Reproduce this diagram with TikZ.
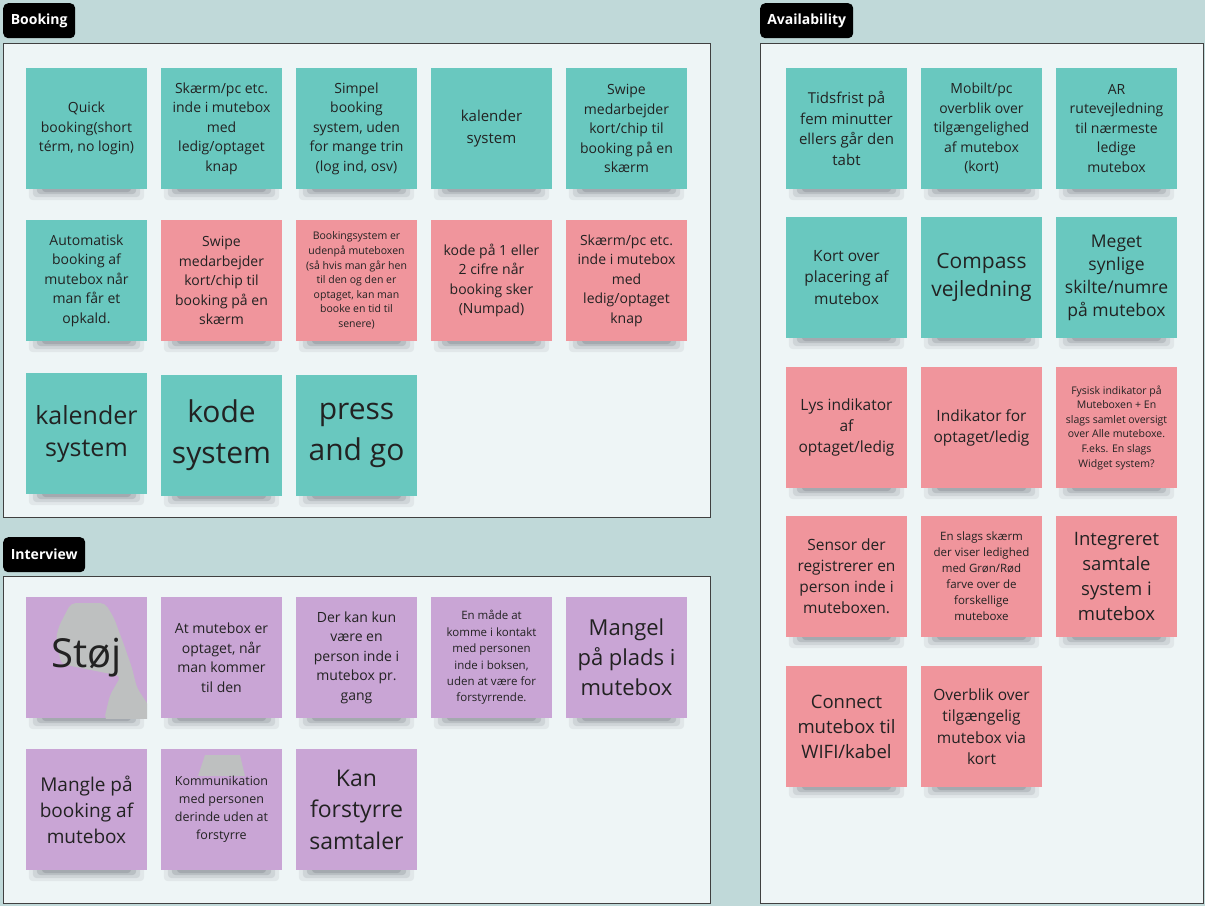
\documentclass[tikz,border=0pt]{standalone}
\usepackage{fontspec}
\setmainfont{Open Sans}
\definecolor{cbg}{HTML}{C0D9D9}
\definecolor{cframe}{HTML}{EEF5F6}
\definecolor{cteal}{HTML}{69C8BF}
\definecolor{cpink}{HTML}{F0959C}
\definecolor{cpurp}{HTML}{C9A5D5}
\definecolor{cgray}{HTML}{BEC0C0}
\definecolor{ctxt}{HTML}{222222}
\definecolor{cshadow}{HTML}{3A3A4A}
\newcommand\fsz[2]{\fontsize{#1}{#2}\selectfont}
\pgfdeclarelayer{framelayer}
\pgfdeclarelayer{shadowlayer}
\pgfsetlayers{framelayer,shadowlayer,main}
\tikzset{
  frame/.style={draw=black!75, line width=0.9pt, fill=cframe},
  tag/.style={fill=black, rounded corners=5pt, text=white, font=\bfseries\fsz{14}{16}, inner sep=0pt, minimum height=35pt, anchor=north west},
  note/.style={minimum width=121pt, minimum height=121pt, inner sep=0pt, align=center, text=ctxt},
  tnote/.style={note, fill=cteal},
  pnote/.style={note, fill=cpink},
  vnote/.style={note, fill=cpurp},
  ntext/.style={inner sep=0pt, align=center, text=ctxt},
  shd/.style={fill=cshadow, rounded corners=4pt},
}
\begin{document}
\begin{tikzpicture}[x=1pt, y={(0pt,-1pt)}]
\begin{pgfonlayer}{framelayer}
\fill[cbg] (0,0) rectangle (1205,906);
% frames
\draw[frame] (3,43) rectangle (710,517);
\draw[frame] (3,576) rectangle (710,903);
\draw[frame] (760,43) rectangle (1203,903);
\end{pgfonlayer}
\useasboundingbox (0,0) rectangle (1205,906);

% tags
\node[tag, minimum width=72pt] (tbook) at (3,3) {Booking};
\node[tag, minimum width=82pt] (tint) at (3,537) {Interview};
\node[tag, minimum width=93pt] (tav) at (760,3) {Availability};

% ---------- Booking ----------
\node[tnote, font=\fsz{14}{19.5}] (b1) at (86.5,128.5) {Quick\\booking(short\\térm, no login)};
\node[tnote, font=\fsz{14}{19.5}] (b2) at (221.5,128.5) {Skærm/pc etc.\\inde i mutebox\\med\\ledig/optaget\\knap};
\node[tnote, font=\fsz{14}{19.5}] (b3) at (356.5,128.5) {Simpel\\booking\\system, uden\\for mange trin\\(log ind, osv)};
\node[tnote, font=\fsz{15}{22}] (b4) at (491.5,128.5) {kalender\\system};
\node[tnote, font=\fsz{14}{19.5}] (b5) at (626.5,128.5) {Swipe\\medarbejder\\kort/chip til\\booking på en\\skærm};

\node[tnote, font=\fsz{14}{19.5}] (b6) at (86.5,280.5) {Automatisk\\booking af\\mutebox når\\man får et\\opkald.};
\node[pnote, font=\fsz{14}{19.5}] (b7) at (221.5,280.5) {Swipe\\medarbejder\\kort/chip til\\booking på en\\skærm};
\node[pnote, font=\fsz{10.5}{14.6}] (b8) at (356.5,280.5) {Bookingsystem er\\udenpå muteboxen\\(så hvis man går hen\\til den og den er\\optaget, kan man\\booke en tid til\\senere)};
\node[pnote, font=\fsz{14}{19.5}] (b9) at (491.5,280.5) {kode på 1 eller\\2 cifre når\\booking sker\\(Numpad)};
\node[pnote, font=\fsz{14}{19.5}] (b10) at (626.5,280.5) {Skærm/pc etc.\\inde i mutebox\\med\\ledig/optaget\\knap};

\node[tnote, font=\fsz{25}{32}] (b11) at (86.5,433.5) {kalender\\system};
\node[tnote, font=\fsz{30}{41}] (b12) at (221.5,435.5) {kode\\system};
\node[tnote, font=\fsz{30}{41}] (b13) at (356.5,435.5) {press\\and go};

% ---------- Interview ----------
\node[vnote] (i1) at (86.5,657.5) {};
\begin{scope}
\clip (26,597) rectangle (147,718);
\fill[cgray, rounded corners=5pt] (71,603) -- (105,603) -- (114,618) -- (124,645) -- (132,668)
  -- (137,688) -- (149,706) -- (149,720) -- (104,720) -- (110,695) -- (121,676)
  -- (61,664) -- (56,638) -- (59,626) -- cycle;
\end{scope}
\node[ntext, font=\fsz{40}{48}] (i1t) at (i1.center) {Støj};
\node[vnote, font=\fsz{14}{19.5}] (i2) at (221.5,657.5) {At mutebox er\\optaget, når\\man kommer\\til den};
\node[vnote, font=\fsz{14}{19.5}] (i3) at (356.5,657.5) {Der kan kun\\være en\\person inde i\\mutebox pr.\\gang};
\node[vnote, font=\fsz{11.5}{16.4}] (i4) at (491.5,657.5) {En måde at\\komme i kontakt\\med personen\\inde i boksen,\\uden at være for\\forstyrrende.};
\node[vnote, font=\fsz{22}{30}] (i5) at (626.5,657.5) {Mangel\\på plads i\\mutebox};

\node[vnote, font=\fsz{19}{26}] (i6) at (86.5,809.5) {Mangle på\\booking af\\mutebox};
\node[vnote] (i7) at (221.5,809.5) {};
\fill[cgray] (205,755) -- (240,755) -- (245,776) -- (198,776) -- cycle;
\node[ntext, font=\fsz{12.5}{18}] (i7t) at (i7.center) {Kommunikation\\med personen\\derinde uden at\\forstyrre};
\node[vnote, font=\fsz{23}{31.5}] (i8) at (356.5,809.5) {Kan\\forstyrre\\samtaler};

% ---------- Availability ----------
\node[tnote, font=\fsz{15}{20.5}] (a1) at (846.5,128.5) {Tidsfrist på\\fem minutter\\ellers går den\\tabt};
\node[tnote, font=\fsz{14}{19.5}] (a2) at (981.5,128.5) {Mobilt/pc\\overblik over\\tilgængelighed\\af mutebox\\(kort)};
\node[tnote, font=\fsz{14}{19.5}] (a3) at (1116.5,128.5) {AR\\rutevejledning\\til nærmeste\\ledige\\mutebox};

\node[tnote, font=\fsz{15.5}{21.5}] (a4) at (846.5,277.5) {Kort over\\placering af\\mutebox};
\node[tnote, font=\fsz{21}{28}] (a5) at (981.5,277.5) {Compass\\vejledning};
\node[tnote, font=\fsz{17.5}{23}] (a6) at (1116.5,277.5) {Meget\\synlige\\skilte/numre\\på mutebox};

\node[pnote, font=\fsz{15.5}{21}] (a7) at (846.5,427.5) {Lys indikator\\af\\optaget/ledig};
\node[pnote, font=\fsz{15.5}{21}] (a8) at (981.5,427.5) {Indikator for\\optaget/ledig};
\node[pnote, font=\fsz{10.5}{14.6}] (a9) at (1116.5,427.5) {Fysisk indikator på\\Muteboxen + En\\slags samlet oversigt\\over Alle muteboxe.\\F.eks. En slags\\Widget system?};

\node[pnote, font=\fsz{15.5}{21}] (a10) at (846.5,576.5) {Sensor der\\registrerer en\\person inde i\\muteboxen.};
\node[pnote, font=\fsz{11.5}{16}] (a11) at (981.5,576.5) {En slags skærm\\der viser ledighed\\med Grøn/Rød\\farve over de\\forskellige\\muteboxe};
\node[pnote, font=\fsz{18.5}{25}] (a12) at (1116.5,576.5) {Integreret\\samtale\\system i\\mutebox};

\node[pnote, font=\fsz{18.5}{25}] (a13) at (846.5,726.5) {Connect\\mutebox til\\WIFI/kabel};
\node[pnote, font=\fsz{15.5}{21.5}] (a14) at (981.5,726.5) {Overblik over\\tilgængelig\\mutebox via\\kort};

% soft shadows under the notes
\begin{pgfonlayer}{shadowlayer}
\foreach \n in {b1,b2,b3,b4,b5,b6,b7,b8,b9,b10,b11,b12,b13,i1,i2,i3,i4,i5,i6,i7,i8,a1,a2,a3,a4,a5,a6,a7,a8,a9,a10,a11,a12,a13,a14}{
  \fill[shd, opacity=0.07] ([xshift=3pt,yshift=4pt]\n.south west) rectangle ([xshift=-3pt,yshift=-11pt]\n.south east);
  \fill[shd, opacity=0.10] ([xshift=7pt,yshift=4pt]\n.south west) rectangle ([xshift=-7pt,yshift=-8pt]\n.south east);
  \fill[shd, opacity=0.14] ([xshift=11pt,yshift=4pt]\n.south west) rectangle ([xshift=-11pt,yshift=-5pt]\n.south east);
  \fill[shd, opacity=0.16] ([xshift=16pt,yshift=4pt]\n.south west) rectangle ([xshift=-16pt,yshift=-3pt]\n.south east);
}
\end{pgfonlayer}
\end{tikzpicture}
\end{document}
